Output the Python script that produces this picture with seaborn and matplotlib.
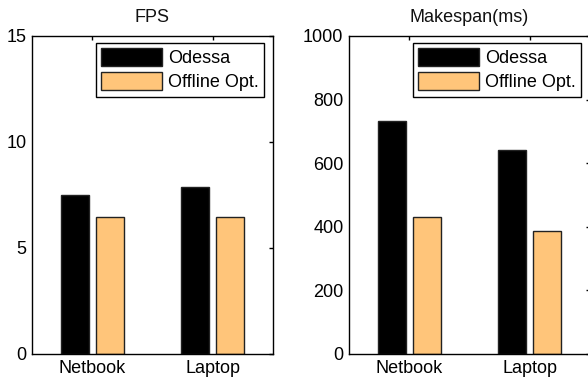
import matplotlib
matplotlib.use('Agg')
import matplotlib.pyplot as plt
import seaborn as sns
import pandas as pd

devices = ["Netbook", "Laptop"]
methods = ["Odessa", "Offline Opt."]
fps_odessa = [7.5, 7.9]
fps_offline = [6.45, 6.45]
makespan_odessa = [733, 641]
makespan_offline = [430, 388]

colors = {"Odessa": "#000000", "Offline Opt.": "#FFC57A"}


def make_frame(odessa, offline):
    rows = []
    for d, a, b in zip(devices, odessa, offline):
        rows.append({"device": d, "method": methods[0], "value": a})
        rows.append({"device": d, "method": methods[1], "value": b})
    return pd.DataFrame(rows)


sns.set_theme(style="white")
plt.rcParams['font.family'] = ['Liberation Sans', 'DejaVu Sans']
plt.rcParams['font.size'] = 13
plt.rcParams['text.color'] = 'black'

fig = plt.figure(figsize=(5.88, 3.79), dpi=100)
ax1 = fig.add_axes([32 / 588, 25 / 379, 241 / 588, 318 / 379])
ax2 = fig.add_axes([349 / 588, 25 / 379, 241 / 588, 318 / 379])

panels = [
    (ax1, make_frame(fps_odessa, fps_offline), "FPS", 15, [0, 5, 10, 15]),
    (ax2, make_frame(makespan_odessa, makespan_offline), "Makespan(ms)", 1000,
     [0, 200, 400, 600, 800, 1000]),
]

for ax, df, title, ymax, yticks in panels:
    sns.barplot(data=df, x="device", y="value", hue="method", order=devices,
                hue_order=methods, palette=colors, saturation=1, width=0.58,
                gap=0.2, edgecolor="#222222", linewidth=1, ax=ax)
    ax.set_xlim(-0.5, 1.5)
    ax.set_ylim(0, ymax)
    ax.set_yticks(yticks)
    ax.set_xlabel("")
    ax.set_ylabel("")
    ax.set_title(title, fontsize=13, pad=10, color="#111111")
    for s in ax.spines.values():
        s.set_visible(True)
        s.set_color("black")
        s.set_linewidth(1)
    ax.tick_params(direction="in", length=3, width=1, top=True, right=True,
                   labelsize=13, colors="black", pad=4)
    handles, labels = ax.get_legend_handles_labels()
    leg = ax.legend(handles, labels, loc="upper right",
                    bbox_to_anchor=(232 / 241, 311 / 318), borderaxespad=0,
                    fancybox=False, edgecolor="black", framealpha=1,
                    fontsize=13, handlelength=3.4, handleheight=1.15,
                    handletextpad=0.3, labelspacing=0.25, borderpad=0.3)
    leg.get_frame().set_linewidth(1)

fig.savefig("out.png", dpi=100)
